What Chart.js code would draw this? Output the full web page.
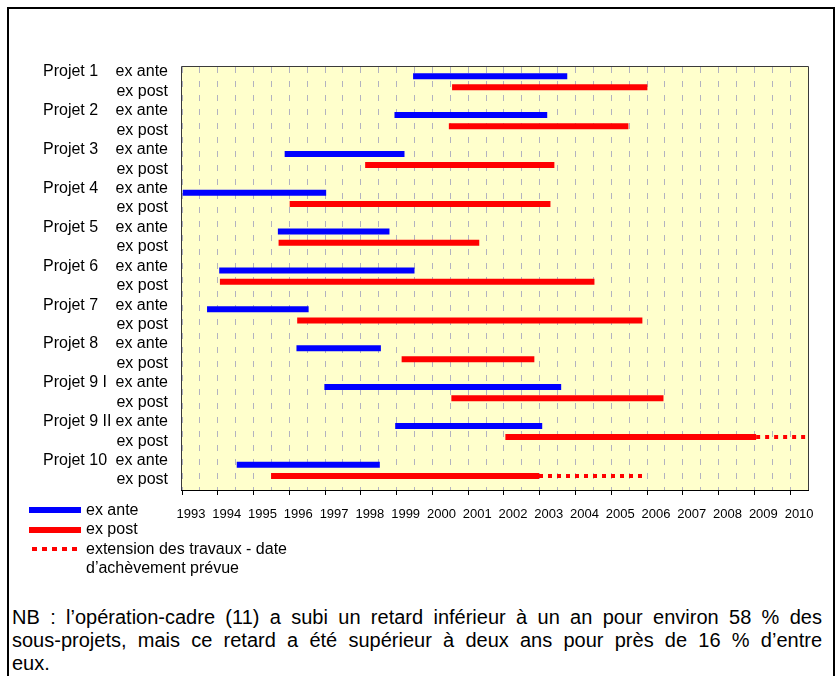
<!DOCTYPE html>
<html lang="fr">
<head>
<meta charset="utf-8">
<title>Calendrier des projets : prévisions et réalisations</title>
<script src="https://cdn.jsdelivr.net/npm/chart.js@4/dist/chart.umd.min.js"></script>
<style>
  html, body { margin: 0; padding: 0; background: #fff; }
  body { width: 835px; height: 676px; position: relative; overflow: hidden;
         font-family: 'Liberation Sans', Arial, sans-serif; color: #000; }
  #frame { position: absolute; left: 7px; top: 7px; width: 828px; height: 720px;
           border: 2px solid #000; box-sizing: border-box; }
  #wrap { position: absolute; left: 0; top: 0; width: 835px; height: 560px; }
  .sw { position: absolute; }
  .lg { position: absolute; left: 86px; font-size: 16px; line-height: 18px; white-space: nowrap; }
  .note { position: absolute; left: 12px; top: 606px; width: 810px; font-size: 20px; line-height: 23px; }
  .note span { display: block; text-align: justify; text-align-last: justify; }
  .note span.last { text-align-last: left; }
</style>
</head>
<body>
<div id="frame"></div>

<div id="wrap"><canvas id="chart" width="835" height="560"></canvas></div>

<!-- legend -->
<div class="sw" style="left:29px;top:507px;width:52px;height:6px;background:#0000ff"></div>
<div class="lg" style="top:501px">ex ante</div>
<div class="sw" style="left:29px;top:527px;width:52px;height:6px;background:#ff0000"></div>
<div class="lg" style="top:520px">ex post</div>
<div class="sw" style="left:32px;top:547px;width:50px;height:4px;background:repeating-linear-gradient(90deg,#ff0000 0 5px,transparent 5px 10px)"></div>
<div class="lg" style="top:540px">extension des travaux - date</div>
<div class="lg" style="top:559px">d’achèvement prévue</div>

<div class="note">
  <span>NB : l’opération-cadre (11) a subi un retard inférieur à un an pour environ 58 % des</span>
  <span>sous-projets, mais ce retard a été supérieur à deux ans pour près de 16 % d’entre</span>
  <span class="last">eux.</span>
</div>

<script>
// Projects and the two phases shown for each of them
const projects = ['Projet 1', 'Projet 2', 'Projet 3', 'Projet 4', 'Projet 5', 'Projet 6',
                  'Projet 7', 'Projet 8', 'Projet 9 I', 'Projet 9 II', 'Projet 10'];
const phases = ['ex ante', 'ex post'];

// Year ticks on the time axis
const years = [1993, 1994, 1995, 1996, 1997, 1998, 1999, 2000, 2001,
               2002, 2003, 2004, 2005, 2006, 2007, 2008, 2009, 2010];

// Planned schedule (ex ante), in fractional years
const anteStart = [1999.46, 1998.94, 1995.87, 1993.02, 1995.68, 1994.04, 1993.70, 1996.20, 1996.98, 1998.96, 1994.53];
const anteEnd   = [2003.77, 2003.21, 1999.22, 1997.03, 1998.80, 1999.50, 1996.54, 1998.56, 2003.60, 2003.07, 1998.53];

// Actual schedule (ex post)
const postStart = [2000.55, 2000.46, 1998.12, 1996.01, 1995.70, 1994.06, 1996.22, 1999.14, 2000.53, 2002.04, 1995.49];
const postEnd   = [2006.01, 2005.48, 2003.41, 2003.30, 2001.31, 2004.53, 2005.87, 2002.85, 2006.46, 2009.05, 2002.98];

// Works still running: expected completion date (null when finished)
const extensionEnd = [null, null, null, null, null, null, null, null, null, 2010.5, 2005.98];

const BLUE = '#0000ff';
const RED = '#ff0000';

// Label rows: one per (project, phase) pair
const rowCount = projects.length * phases.length;
const ROW_MIN = -0.2574;
const ROW_MAX = 21.515;

// Bars sit a little inside their label row, around the project's centre
function rowPos(i, phase) {
  return 2 * i + 0.5 + (phase === 0 ? -0.285 : 0.29);
}

const halfYears = years.flatMap(y => [y, y + 0.5]);

const barCommon = {
  type: 'bar',
  grouped: false,
  maxBarThickness: 6,
  borderWidth: 0,
  xAxisID: 'x',
  yAxisID: 'y'
};

const datasets = [
  Object.assign({
    label: phases[0],
    backgroundColor: BLUE,
    data: projects.map((p, i) => ({ y: rowPos(i, 0), x: [anteStart[i], anteEnd[i]] }))
  }, barCommon),
  Object.assign({
    label: phases[1],
    backgroundColor: RED,
    data: projects.map((p, i) => ({ y: rowPos(i, 1), x: [postStart[i], postEnd[i]] }))
  }, barCommon)
];

// Dotted continuation after the ex post bar
projects.forEach((p, i) => {
  if (extensionEnd[i] === null) return;
  datasets.push({
    type: 'line',
    label: 'extension ' + p,
    data: [{ x: postEnd[i], y: rowPos(i, 1) }, { x: extensionEnd[i], y: rowPos(i, 1) }],
    borderColor: RED,
    borderWidth: 4,
    borderDash: [4, 5],
    borderCapStyle: 'butt',
    pointRadius: 0,
    fill: false,
    xAxisID: 'x',
    yAxisID: 'y'
  });
});

// Pale yellow plot background and dark frame around it
const plotFrame = {
  id: 'plotFrame',
  beforeDraw(chart) {
    const { ctx, chartArea: a } = chart;
    ctx.save();
    ctx.fillStyle = '#ffffcc';
    ctx.fillRect(a.left, a.top, a.right - a.left, a.bottom - a.top);
    ctx.restore();
  },
  afterDraw(chart) {
    const { ctx, chartArea: a } = chart;
    ctx.save();
    ctx.lineWidth = 1;
    ctx.strokeStyle = '#3a3a3a';
    ctx.beginPath();
    ctx.moveTo(a.left - 0.5, a.bottom);
    ctx.lineTo(a.left - 0.5, a.top - 0.5);
    ctx.lineTo(a.right + 0.5, a.top - 0.5);
    ctx.lineTo(a.right + 0.5, a.bottom);
    ctx.stroke();
    ctx.strokeStyle = '#000';
    ctx.beginPath();
    ctx.moveTo(a.left - 1, a.bottom + 0.5);
    ctx.lineTo(a.right + 1, a.bottom + 0.5);
    ctx.stroke();
    ctx.restore();
  }
};

const labelFont = { family: "'Liberation Sans', Arial, sans-serif", size: 16 };

new Chart(document.getElementById('chart'), {
  type: 'bar',
  data: { datasets },
  plugins: [plotFrame],
  options: {
    indexAxis: 'y',
    responsive: false,
    animation: false,
    events: [],
    layout: { padding: { left: 43, top: 67, right: 27, bottom: 30 } },
    plugins: { legend: { display: false }, tooltip: { enabled: false } },
    scales: {
      x: {
        type: 'linear',
        position: 'bottom',
        min: years[0],
        max: years[years.length - 1] + 0.5,
        afterBuildTicks: s => { s.ticks = halfYears.map(v => ({ value: v })); },
        afterFit: s => { s.height = 40; },
        grid: {
          color: '#b2b2c0',
          lineWidth: 1,
          drawTicks: true,
          tickLength: 5,
          tickWidth: 1,
          tickBorderDash: [],
          tickColor: c => (c.tick && Number.isInteger(c.tick.value)) ? '#000' : 'rgba(0,0,0,0)'
        },
        border: { display: false, dash: [6, 8] },
        ticks: {
          autoSkip: false,
          maxRotation: 0,
          padding: 12,
          labelOffset: 9,
          color: '#000',
          font: { family: "'Liberation Sans', Arial, sans-serif", size: 13 },
          callback: v => Number.isInteger(v) ? String(v) : ''
        }
      },
      y: {
        type: 'linear',
        position: 'left',
        reverse: true,
        offset: false,
        weight: 0,
        min: ROW_MIN,
        max: ROW_MAX,
        afterBuildTicks: s => { s.ticks = Array.from({ length: rowCount }, (_, k) => ({ value: k })); },
        afterFit: s => { s.width = 67; },
        grid: { display: false, drawTicks: false, offset: false },
        border: { display: false },
        ticks: {
          autoSkip: false,
          padding: 14,
          color: '#000',
          font: labelFont,
          callback: v => phases[v % 2]
        }
      },
      yProjet: {
        type: 'linear',
        position: 'left',
        reverse: true,
        offset: false,
        weight: 10,
        min: ROW_MIN,
        max: ROW_MAX,
        afterBuildTicks: s => { s.ticks = Array.from({ length: rowCount }, (_, k) => ({ value: k })); },
        afterFit: s => { s.width = 72; },
        grid: { display: false, drawTicks: false, offset: false },
        border: { display: false },
        ticks: {
          autoSkip: false,
          padding: 0,
          crossAlign: 'far',
          color: '#000',
          font: labelFont,
          callback: v => (v % 2 === 0 ? projects[v / 2] : '')
        }
      }
    }
  }
});
</script>
</body>
</html>
